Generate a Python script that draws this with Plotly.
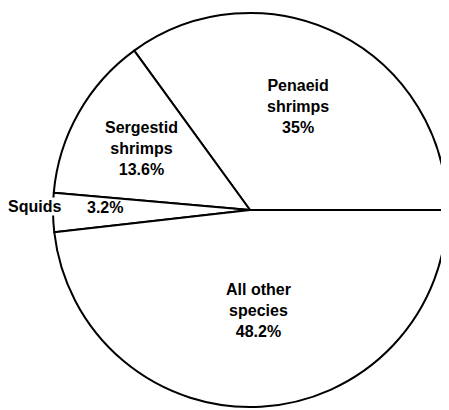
import plotly.graph_objects as go

labels = ["Penaeid shrimps", "Sergestid shrimps", "Squids", "All other species"]
values = [35.0, 13.6, 3.2, 48.2]
text_lines = ["Penaeid<br>shrimps<br>35%", "Sergestid<br>shrimps<br>13.6%", "3.2%", "All other<br>species<br>48.2%"]
outside_label = "Squids"

# page body has an 8px margin; the figure is sized to fit inside the window
W, H, OFF = 441, 402, 8


def px(X, Y):
    return (X - OFF) / W, 1 - (Y - OFF) / H


cx, cy, r = 250 - OFF, 210 - OFF, 197
first_share = values[0] / sum(values) * 360

fig = go.Figure(go.Pie(
    labels=labels,
    values=values,
    sort=False,
    direction="counterclockwise",
    rotation=90 - first_share,
    textinfo="none",
    hoverinfo="label+percent",
    marker=dict(colors=["white"] * 4, line=dict(color="black", width=2)),
    domain=dict(x=[(cx - r) / W, (cx + r) / W], y=[(H - cy - r) / H, (H - cy + r) / H]),
    showlegend=False,
))

font = dict(family="Liberation Sans, Arial, sans-serif", size=16, color="black")
pos = [px(298, 106), px(141, 148.5), px(105, 207), px(258, 310)]
for (x, y), t in zip(pos, text_lines):
    fig.add_annotation(x=x, y=y, xref="paper", yref="paper", text="<b>" + t + "</b>",
                       showarrow=False, font=font, align="center",
                       xanchor="center", yanchor="middle")
sx, sy = px(34, 206)
fig.add_annotation(x=sx, y=sy, xref="paper", yref="paper", text="<b>" + outside_label + "</b>",
                   showarrow=False, font=font, align="center", xanchor="center", yanchor="middle",
                   bgcolor="white", borderpad=0)

fig.update_layout(width=W, height=H, margin=dict(l=0, r=0, t=0, b=0),
                  paper_bgcolor="white", plot_bgcolor="white")
fig.write_html("out.html")
